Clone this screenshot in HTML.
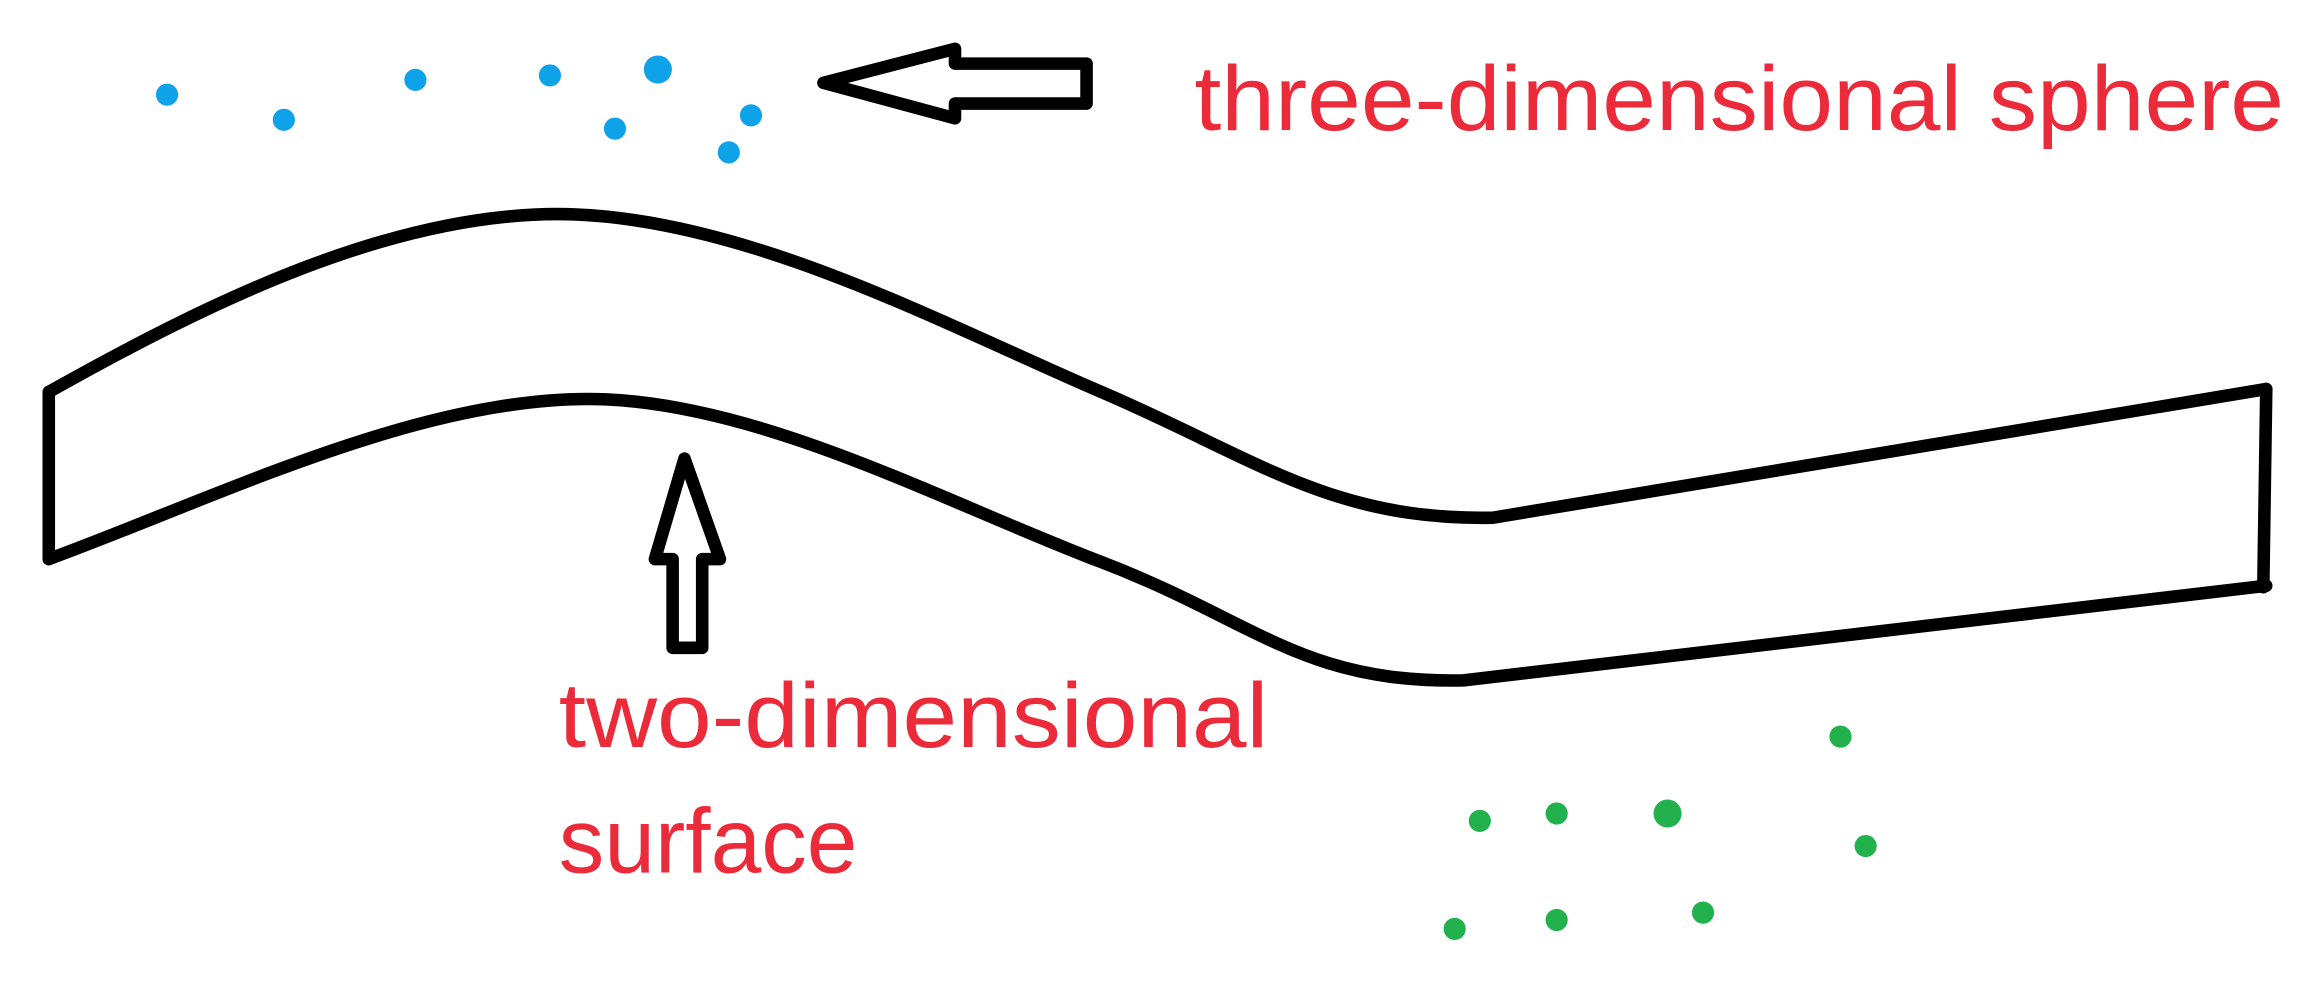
<!DOCTYPE html>
<html><head><style>html,body{margin:0;padding:0;background:#fff;overflow:hidden}svg{display:block}</style></head>
<body>
<svg width="2318" height="991" viewBox="0 0 1568 670" preserveAspectRatio="none" xmlns="http://www.w3.org/2000/svg">
<g fill="#0ea2e8">
<ellipse cx="113" cy="64" rx="7.5" ry="7.5"/><ellipse cx="192" cy="81" rx="7.5" ry="7.5"/><ellipse cx="281" cy="54" rx="7.5" ry="7.5"/><ellipse cx="372" cy="51" rx="7.5" ry="7.5"/><ellipse cx="445" cy="47" rx="9.5" ry="9.5"/><ellipse cx="416" cy="87" rx="7.5" ry="7.5"/><ellipse cx="508" cy="78" rx="7.5" ry="7.5"/><ellipse cx="493" cy="103" rx="7.5" ry="7.5"/>
</g>
<g fill="#22b14c">
<ellipse cx="1245" cy="498" rx="7.5" ry="7.5"/><ellipse cx="1001" cy="555" rx="7.5" ry="7.5"/><ellipse cx="1053" cy="550" rx="7.5" ry="7.5"/><ellipse cx="1128" cy="550" rx="9.5" ry="9.5"/><ellipse cx="1262" cy="572" rx="7.5" ry="7.5"/><ellipse cx="984" cy="628" rx="7.5" ry="7.5"/><ellipse cx="1053" cy="622" rx="7.5" ry="7.5"/><ellipse cx="1152" cy="617" rx="7.5" ry="7.5"/>
</g>
<g fill="none" stroke="#000" stroke-width="8.5" stroke-linejoin="round" stroke-linecap="round">
<path d="M557,56 L646,33 L646,43 L735,43 L735,70 L646,70 L646,80 Z"/>
<path d="M463,310 L487,378 L475,378 L475,438 L455,438 L455,378 L443,378 Z"/>
<path d="M33,265 C140,205 270,140 390,145 C510,150 640,220 745,265 C850,310 900,352 1010,350 L1533,263"/>
<path d="M33,378 C150,335 290,265 410,270 C520,275 640,340 745,380 C850,420 880,462 990,460 L1533,396"/>
<path d="M33,265 L33,378 M1533,263 L1531,397"/>
</g>
<g fill="#ec2b3a" font-family="Liberation Sans, sans-serif" font-size="62">
<text x="808" y="88" textLength="737" lengthAdjust="spacingAndGlyphs">three-dimensional sphere</text>
<text x="378" y="505" textLength="480" lengthAdjust="spacingAndGlyphs">two-dimensional</text>
<text x="378" y="590" textLength="202" lengthAdjust="spacingAndGlyphs">surface</text>
</g>
</svg>
</body></html>
